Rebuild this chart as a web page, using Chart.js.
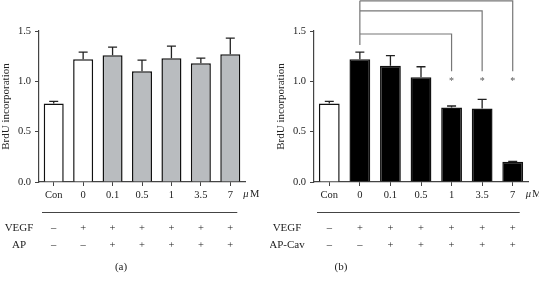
<!DOCTYPE html>
<html>
<head>
<meta charset="utf-8">
<script src="https://cdn.jsdelivr.net/npm/chart.js@4.4.0/dist/chart.umd.min.js"></script>
<style>
body{margin:0;background:#fff;width:539px;height:282px;position:relative;overflow:hidden}
canvas{position:absolute;top:0}
</style>
</head>
<body>
<canvas id="chartA" width="270" height="282" style="left:0"></canvas>
<canvas id="chartB" width="269" height="282" style="left:270px"></canvas>
<script>
var doses = ['Con', '0', '0.1', '0.5', '1', '3.5', '7'];
var vegfRow = ['–', '+', '+', '+', '+', '+', '+'];
var drugRow = ['–', '–', '+', '+', '+', '+', '+'];
var yTicks = [0, 0.5, 1.0, 1.5];

// panel (a): AP
var apMean = [0.78, 1.22, 1.26, 1.10, 1.23, 1.18, 1.27];
var apErr  = [0.02, 0.07, 0.08, 0.11, 0.12, 0.05, 0.16];
// panel (b): AP-Cav
var cavMean = [0.78, 1.22, 1.155, 1.04, 0.74, 0.73, 0.20];
var cavErr  = [0.02, 0.07, 0.10, 0.105, 0.015, 0.09, 0.005];

// significance vs. VEGF only (bar index 1)
var sigFrom = 1;
var sigTo = [4, 5, 6];
var sigLevel = [1.47, 1.70, 1.80];

var serif = "'Liberation Serif', 'DejaVu Serif', serif";
var ink = '#222';
var axisCol = '#444';

var extras = {
	id: 'extras',
	afterDatasetsDraw: function(chart, args, opts) {
		var ctx = chart.ctx;
		var xs = chart.scales.x, ys = chart.scales.y;
		var meta = chart.getDatasetMeta(0);
		var ds = chart.data.datasets[0];
		ctx.save();
		// error bars (upper only)
		ctx.strokeStyle = ink;
		ctx.lineWidth = 1.3;
		meta.data.forEach(function(bar, i) {
			var top = ys.getPixelForValue(ds.data[i]);
			var end = ys.getPixelForValue(ds.data[i] + opts.err[i]);
			ctx.beginPath();
			ctx.moveTo(bar.x, top);
			ctx.lineTo(bar.x, end);
			ctx.moveTo(bar.x - 4.5, end);
			ctx.lineTo(bar.x + 4.5, end);
			ctx.stroke();
		});
		// significance brackets
		if (opts.sig) {
			var x0 = xs.getPixelForValue(sigFrom);
			ctx.strokeStyle = '#777';
			ctx.lineWidth = 1.2;
			ctx.beginPath();
			ctx.moveTo(x0, ys.getPixelForValue(Math.max.apply(null, sigLevel)));
			ctx.lineTo(x0, ys.getPixelForValue(1.36));
			for (var k = 0; k < sigTo.length; k++) {
				var yl = ys.getPixelForValue(sigLevel[k]);
				var xt = xs.getPixelForValue(sigTo[k]);
				ctx.moveTo(x0, yl);
				ctx.lineTo(xt, yl);
				ctx.lineTo(xt, ys.getPixelForValue(1.10));
			}
			ctx.stroke();
			ctx.fillStyle = '#555';
			ctx.font = '10px ' + serif;
			ctx.textAlign = 'center';
			ctx.textBaseline = 'middle';
			sigTo.forEach(function(t) {
				ctx.fillText('*', xs.getPixelForValue(t), ys.getPixelForValue(1.0));
			});
		}
		// unit after the last tick
		var last = xs.getPixelForValue(doses.length - 1);
		ctx.fillStyle = ink;
		ctx.textBaseline = 'middle';
		ctx.textAlign = 'left';
		ctx.font = 'italic 10.5px ' + serif;
		ctx.fillText('μ', last + 13, 194);
		ctx.font = '10.5px ' + serif;
		ctx.fillText('M', last + 13 + ctx.measureText('μ').width + 1, 194);
		// separator line
		ctx.strokeStyle = axisCol;
		ctx.lineWidth = 1;
		ctx.beginPath();
		ctx.moveTo(chart.chartArea.left + 3, 212.5);
		ctx.lineTo(last + 7, 212.5);
		ctx.stroke();
		// treatment rows
		ctx.textAlign = 'center';
		ctx.font = '10.5px ' + serif;
		for (var i = 0; i < doses.length; i++) {
			var cx = xs.getPixelForValue(i);
			ctx.fillText(vegfRow[i], cx, 228);
			ctx.fillText(drugRow[i], cx, 245);
		}
		ctx.font = '11px ' + serif;
		ctx.fillText('VEGF', opts.labelX, 228);
		ctx.fillText(opts.drug, opts.labelX, 245);
		ctx.fillText(opts.letter, opts.letterX, 267);
		ctx.restore();
	}
};

function makeChart(id, means, errs, fills, opts) {
	var ctx = document.getElementById(id);
	return new Chart(ctx, {
		type: 'bar',
		data: {
			labels: doses,
			datasets: [{
				data: means,
				backgroundColor: fills,
				borderColor: '#111',
				borderWidth: 1.5,
				barPercentage: 0.68,
				categoryPercentage: 1
			}]
		},
		options: {
			responsive: false,
			animation: false,
			events: [],
			layout: { padding: { left: 0, top: 31, right: opts.rightPad, bottom: 0 } },
			plugins: {
				legend: { display: false },
				tooltip: { enabled: false },
				extras: { err: errs, sig: opts.sig, drug: opts.drug, labelX: opts.labelX, letter: opts.letter, letterX: opts.letterX }
			},
			scales: {
				x: {
					afterFit: function(s) { s.height = 100; },
					grid: { display: true, drawOnChartArea: false, offset: false, tickLength: 4, color: axisCol, lineWidth: 1 },
					border: { display: true, color: axisCol, width: 1.2 },
					ticks: { color: ink, padding: 3, font: { family: serif, size: 10.5 } }
				},
				y: {
					min: 0,
					max: 1.5,
					afterFit: function(s) { s.width = opts.yWidth; },
					afterBuildTicks: function(s) { s.ticks = yTicks.map(function(v) { return { value: v }; }); },
					grid: { display: true, drawOnChartArea: false, tickLength: 4, color: axisCol, lineWidth: 1 },
					border: { display: true, color: axisCol, width: 1.2 },
					ticks: {
						color: ink, padding: 4, font: { family: serif, size: 10.5 },
						callback: function(v) { return Number(v).toFixed(1); }
					},
					title: {
						display: true, text: 'BrdU incorporation', color: ink,
						font: { family: serif, size: 11 }, padding: { top: opts.titlePad, bottom: 0 }
					}
				}
			}
		},
		plugins: [extras]
	});
}

var grey = '#b9bcbf';
makeChart('chartA', apMean, apErr,
	['#fff', '#fff', grey, grey, grey, grey, grey],
	{ yWidth: 39, rightPad: 25, titlePad: 0, sig: false, drug: 'AP', labelX: 19, letter: '(a)', letterX: 121 });
makeChart('chartB', cavMean, cavErr,
	['#fff', '#000', '#000', '#000', '#000', '#000', '#000'],
	{ yWidth: 44, rightPad: 11, titlePad: 5, sig: true, drug: 'AP-Cav', labelX: 17, letter: '(b)', letterX: 71 });
</script>
</body>
</html>
